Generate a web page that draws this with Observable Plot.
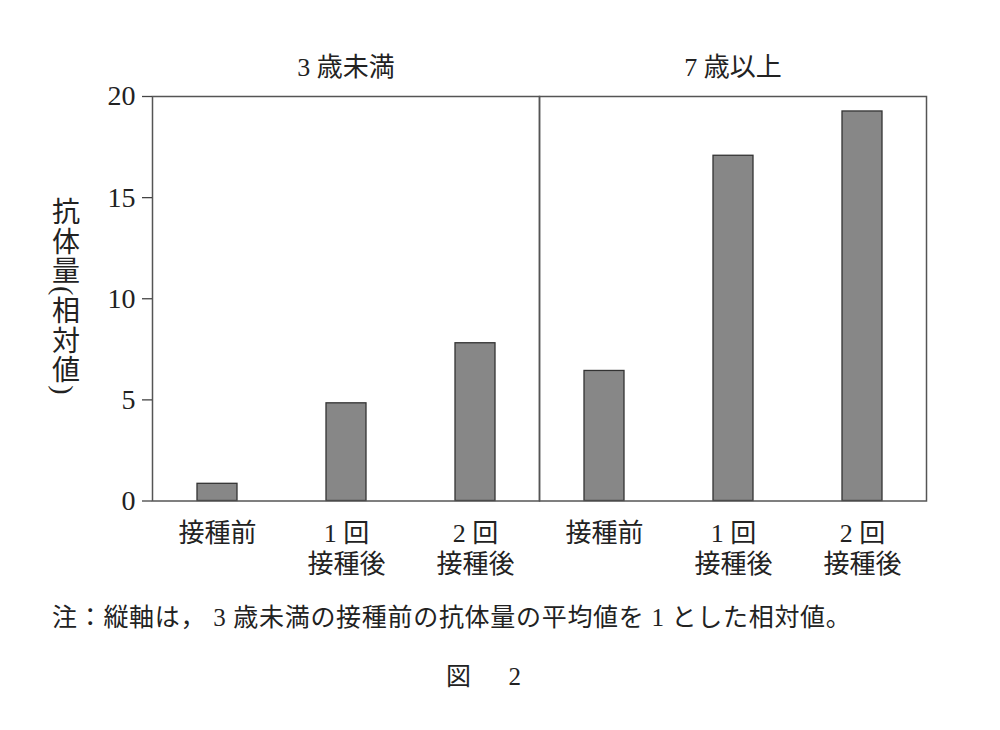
<!DOCTYPE html>
<html>
<head>
<meta charset="utf-8">
<script src="https://cdn.jsdelivr.net/npm/d3@7"></script>
<script src="https://cdn.jsdelivr.net/npm/@observablehq/plot@0.6"></script>
<style>
  html, body { margin: 0; padding: 0; background: #fff; }
  #wrap { position: relative; width: 1000px; height: 730px; overflow: hidden; }
  .jp { font-family: 'Liberation Serif', 'Noto Sans CJK JP', serif; color: #222; position: absolute; white-space: pre; }
  #note { left: 52px; top: 601px; font-size: 25px; line-height: 34px; letter-spacing: 0.7px; }
  #fig { left: 446px; top: 660px; font-size: 25px; line-height: 34px; }
</style>
</head>
<body>
<div id="wrap">
  <div id="chart"></div>
  <div id="note" class="jp">注：縦軸は， 3 歳未満の接種前の抗体量の平均値を 1 とした相対値。</div>
  <div id="fig" class="jp">図　  2</div>
</div>
<script>
const groups = ["3 歳未満", "7 歳以上"];
const stages = ["接種前", "1 回\n接種後", "2 回\n接種後"];
const under3 = [0.85, 4.83, 7.8];
const over7 = [6.43, 17.07, 19.26];
const yTicks = [0, 5, 10, 15, 20];
const yLabel = "抗体量(相対値)";

const data = [
  ...stages.map((s, i) => ({group: groups[0], stage: s, value: under3[i]})),
  ...stages.map((s, i) => ({group: groups[1], stage: s, value: over7[i]}))
];

const chart = Plot.plot({
  width: 1000,
  height: 590,
  marginLeft: 151,
  marginRight: 74,
  marginTop: 96,
  marginBottom: 89.5,
  style: {fontFamily: "'Liberation Serif', 'Noto Sans CJK JP', serif", fontSize: "26px", color: "#222", background: "#fff"},
  fx: {domain: groups, padding: 0, label: null},
  x: {domain: stages, paddingInner: 0.69, paddingOuter: 0.345, label: null},
  y: {domain: [0, 20], label: null},
  marks: [
    Plot.barY(data, {fx: "group", x: "stage", y: "value", fill: "#878787", stroke: "#333", strokeWidth: 1.3}),
    Plot.frame({stroke: "#555", strokeWidth: 1.5}),
    Plot.axisY({ticks: yTicks, tickSize: 10, tickPadding: 7, label: null, stroke: "#444", strokeWidth: 1.3, fontSize: 28}),
    Plot.axisX({tickSize: 0, tickPadding: 19, label: null, lineHeight: 1.2}),
    Plot.axisFx({anchor: "top", tickSize: 0, tickPadding: 21, label: null}),
    Plot.text([yLabel], {text: d => d, frameAnchor: "left", dx: -89, textAnchor: "middle", fontSize: 28, facetAnchor: "left"})
  ]
});
document.getElementById("chart").appendChild(chart);
d3.select(chart).selectAll("text")
  .filter(function() { return this.textContent === yLabel; })
  .attr("writing-mode", "tb")
  .style("writing-mode", "vertical-rl")
  .style("letter-spacing", "1.5px")
  .attr("dy", -11);
</script>
</body>
</html>
